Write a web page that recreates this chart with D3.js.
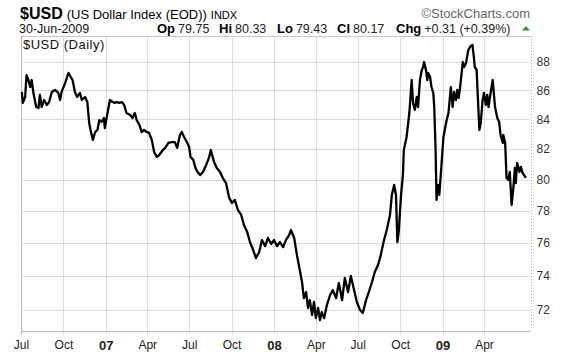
<!DOCTYPE html>
<html><head><meta charset="utf-8">
<script src="https://cdn.jsdelivr.net/npm/d3@7"></script>
<style>
body{margin:0;background:#fff}
svg{display:block}
text{font-family:"Liberation Sans",Arial,sans-serif}
</style>
</head><body>
<svg id="chart" width="570" height="352"></svg>
<script>
// ---- data ----
const dates = [
"2006-07-03","2006-07-05","2006-07-10","2006-07-13","2006-07-17","2006-07-21","2006-07-24","2006-07-28",
"2006-08-03","2006-08-08","2006-08-11","2006-08-15","2006-08-20","2006-08-26","2006-08-31",
"2006-09-06","2006-09-13","2006-09-20","2006-09-24","2006-09-27",
"2006-10-05","2006-10-12","2006-10-17","2006-10-21","2006-10-26","2006-10-31",
"2006-11-06","2006-11-10","2006-11-17","2006-11-22","2006-11-26","2006-11-29",
"2006-12-04","2006-12-09","2006-12-14","2006-12-18","2006-12-23","2006-12-28","2006-12-30",
"2007-01-04","2007-01-10","2007-01-16","2007-01-21","2007-01-25","2007-01-30",
"2007-02-05","2007-02-10","2007-02-15","2007-02-23","2007-02-28",
"2007-03-05","2007-03-09","2007-03-15","2007-03-20","2007-03-25","2007-03-31",
"2007-04-05","2007-04-11","2007-04-16","2007-04-22","2007-04-27",
"2007-05-05","2007-05-10","2007-05-17","2007-05-24","2007-05-31",
"2007-06-05","2007-06-11","2007-06-15","2007-06-20","2007-06-26",
"2007-07-01","2007-07-04","2007-07-10","2007-07-14","2007-07-19","2007-07-25","2007-07-31",
"2007-08-07","2007-08-13","2007-08-17","2007-08-24","2007-08-30",
"2007-09-06","2007-09-12","2007-09-19","2007-09-26",
"2007-10-02","2007-10-08","2007-10-15","2007-10-22","2007-10-28",
"2007-11-04","2007-11-10","2007-11-17","2007-11-23","2007-11-30",
"2007-12-06","2007-12-13","2007-12-19","2007-12-26",
"2008-01-01","2008-01-08","2008-01-14","2008-01-21","2008-01-27",
"2008-02-03","2008-02-07","2008-02-14","2008-02-20","2008-02-27",
"2008-03-02","2008-03-06","2008-03-11","2008-03-15","2008-03-19","2008-03-24","2008-03-28",
"2008-04-01","2008-04-06","2008-04-10","2008-04-14","2008-04-19","2008-04-25",
"2008-05-02","2008-05-08","2008-05-15","2008-05-21","2008-05-28",
"2008-06-03","2008-06-10","2008-06-16","2008-06-23","2008-06-29",
"2008-07-06","2008-07-12","2008-07-19","2008-07-25",
"2008-08-01","2008-08-07","2008-08-14","2008-08-20","2008-08-27",
"2008-09-02","2008-09-09","2008-09-13","2008-09-18","2008-09-22","2008-09-25","2008-09-28",
"2008-10-03","2008-10-07","2008-10-09","2008-10-15","2008-10-21","2008-10-26","2008-10-29",
"2008-11-02","2008-11-06","2008-11-09","2008-11-13","2008-11-17","2008-11-20","2008-11-22","2008-11-26","2008-11-29",
"2008-12-01","2008-12-05","2008-12-08","2008-12-12","2008-12-14","2008-12-17","2008-12-19","2008-12-22","2008-12-25","2008-12-29",
"2009-01-03","2009-01-10","2009-01-14","2009-01-19","2009-01-23","2009-01-26","2009-01-30",
"2009-02-02","2009-02-05","2009-02-08","2009-02-14","2009-02-17","2009-02-21","2009-02-26",
"2009-03-03","2009-03-07","2009-03-10","2009-03-12","2009-03-16","2009-03-20","2009-03-22","2009-03-25","2009-03-29",
"2009-04-01","2009-04-05","2009-04-08","2009-04-11","2009-04-14","2009-04-20","2009-04-25","2009-04-30",
"2009-05-04","2009-05-07","2009-05-12","2009-05-13","2009-05-17","2009-05-20","2009-05-24","2009-05-27","2009-05-31",
"2009-06-04","2009-06-07","2009-06-09","2009-06-12","2009-06-17","2009-06-20","2009-06-24","2009-06-30"
];
const values = [
85.81,85.12,85.53,87.06,86.71,86.22,86.71,85.81,
84.84,84.77,85.67,84.84,85.32,84.98,85.18,
85.88,86.02,85.81,85.32,85.88,
86.50,87.21,86.92,86.71,85.88,85.53,
85.81,85.32,85.53,85.18,83.75,83.28,
82.61,83.14,83.28,83.95,83.82,84.09,83.41,
84.29,85.32,85.18,85.12,85.18,85.12,
85.18,84.98,84.43,84.29,84.09,
84.43,83.95,83.62,83.14,83.28,83.14,
83.08,82.61,81.81,81.48,81.61,
81.94,82.08,82.41,82.47,82.47,
82.08,82.94,83.14,82.81,82.47,
82.14,81.48,81.29,80.83,80.50,80.30,80.50,
80.96,81.42,81.94,81.16,80.76,
80.50,80.11,79.78,78.83,
78.51,78.70,78.06,77.75,77.12,
76.69,76.07,75.58,75.09,75.46,
76.19,75.82,76.32,75.95,
76.19,75.82,76.07,75.76,76.19,
76.50,76.81,76.32,75.27,74.25,
73.65,72.70,73.05,72.12,72.58,71.71,72.47,
71.53,72.12,71.42,71.88,71.53,72.29,
72.88,73.17,72.70,73.59,72.58,
73.89,73.05,74.01,73.17,72.47,
72.00,71.83,72.58,73.05,
73.65,74.25,74.67,75.27,76.19,
76.81,77.75,79.02,79.66,79.02,76.07,76.69,
79.02,80.30,81.94,82.81,84.43,86.71,85.12,
84.64,85.53,84.84,86.71,87.42,87.63,87.98,87.42,86.71,
87.21,86.92,86.22,85.81,84.84,81.94,78.70,79.66,79.02,80.63,
82.81,83.95,84.43,86.22,84.84,85.88,85.32,
86.02,85.46,86.15,87.98,87.63,87.91,88.84,
89.13,89.20,88.34,87.63,87.42,84.64,83.28,83.75,85.32,
85.81,84.98,85.67,84.84,85.53,86.71,84.84,84.09,
83.82,82.94,82.41,82.94,82.41,80.11,79.98,80.50,78.38,
79.53,80.76,79.78,81.09,80.50,80.83,80.43,80.17
];
const yTicks = [72,74,76,78,80,82,84,86,88];
const xTickDates = ["2006-07-01","2006-10-01","2007-01-01","2007-04-01","2007-07-01","2007-10-01",
                    "2008-01-01","2008-04-01","2008-07-01","2008-10-01","2009-01-01","2009-04-01"];
const xTickLabels = ["Jul","Oct","07","Apr","Jul","Oct","08","Apr","Jul","Oct","09","Apr"];
const quoteLabels = ["Op","Hi","Lo","Cl","Chg"];
const quoteValues = ["79.75","80.33","79.43","80.17","+0.31 (+0.39%)"];

// ---- drawing ----
const svg = d3.select("#chart");
const parse = d3.utcParse("%Y-%m-%d");
const L = 21, R = 530.5, T = 36, B = 330.5;
const x = d3.scaleUtc().domain([parse("2006-07-01"), parse("2009-07-11")]).range([L, R]);
const y = d3.scaleLog().domain([70.82, 89.85]).range([B, T]);
const snap = v => Math.round(v) + 0.5;

// grid
const g = svg.append("g");
g.selectAll("line.h").data(yTicks).join("line")
  .attr("x1", L).attr("x2", R).attr("y1", d => snap(y(d))).attr("y2", d => snap(y(d)))
  .attr("stroke", "#dcdcdc").attr("stroke-width", 1);
g.selectAll("line.v").data(xTickDates).join("line")
  .attr("x1", d => snap(x(parse(d)))).attr("x2", d => snap(x(parse(d))))
  .attr("y1", T).attr("y2", B + 4)
  .attr("stroke", "#dcdcdc").attr("stroke-width", 1);

// frame
g.append("line").attr("x1", L).attr("x2", R).attr("y1", snap(T)).attr("y2", snap(T)).attr("stroke", "#c8c8c8");
g.append("line").attr("x1", L).attr("x2", R).attr("y1", snap(B)).attr("y2", snap(B)).attr("stroke", "#b8b8b8");
g.append("line").attr("x1", snap(L)).attr("x2", snap(L)).attr("y1", T).attr("y2", B + 4).attr("stroke", "#b8b8b8");
g.append("line").attr("x1", snap(R)).attr("x2", snap(R)).attr("y1", T).attr("y2", B)
  .attr("stroke", "#a8a8a8").attr("stroke-dasharray", "1,2");

// right axis
const yAxis = d3.axisRight(y).tickValues(yTicks).tickFormat(d3.format("d")).tickSize(0).tickPadding(5);
const ya = svg.append("g").attr("transform", `translate(${snap(R)},0)`).call(yAxis);
ya.select(".domain").remove();
ya.selectAll("text").attr("font-size", 12).attr("fill", "#333")
  .attr("font-family", "'Liberation Sans',Arial,sans-serif");

// bottom axis
const xAxis = d3.axisBottom(x).tickValues(xTickDates.map(parse))
  .tickFormat((d, i) => xTickLabels[i]).tickSize(0).tickPadding(10);
const xa = svg.append("g").attr("transform", `translate(0,${B})`).call(xAxis);
xa.select(".domain").remove();
xa.selectAll("text").attr("fill", "#222")
  .attr("font-family", "'Liberation Sans',Arial,sans-serif")
  .attr("font-weight", (d, i) => /^\d/.test(xTickLabels[i]) ? "bold" : "normal")
  .attr("font-size", (d, i) => /^\d/.test(xTickLabels[i]) ? 13 : 12);

// price line
const line = d3.line().x((d, i) => x(parse(dates[i]))).y(d => y(d)).curve(d3.curveLinear);
svg.append("path").datum(values).attr("d", line)
  .attr("fill", "none").attr("stroke", "#000").attr("stroke-width", 2.3)
  .attr("stroke-linejoin", "round").attr("stroke-linecap", "round");

// in-plot label
svg.append("text").attr("x", 23).attr("y", 48.5).attr("font-size", 13)
  .attr("letter-spacing", 0.5)
  .attr("font-family", "'DejaVu Sans',sans-serif").attr("fill", "#111").text("$USD (Daily)");

// header
const h1 = svg.append("text").attr("x", 20).attr("y", 18.5).attr("fill", "#000");
h1.append("tspan").attr("font-size", 16).attr("font-weight", "bold").text("$USD");
h1.append("tspan").attr("font-size", 13).attr("dx", 4).text("(US Dollar Index (EOD))");
h1.append("tspan").attr("font-size", 11).attr("dx", 4).text("INDX");

svg.append("text").attr("x", 19).attr("y", 32.5).attr("font-size", 12.5).attr("fill", "#111").text("30-Jun-2009");

const qx = [157, 219, 277, 337, 396];
quoteLabels.forEach((lab, i) => {
  const t = svg.append("text").attr("x", qx[i]).attr("y", 32.5).attr("fill", "#000");
  t.append("tspan").attr("font-size", 13).attr("font-weight", "bold").text(lab);
  t.append("tspan").attr("font-size", 12.5).attr("dx", 3).attr("fill", "#222").text(quoteValues[i]);
});
svg.append("path").attr("d", "M522,30.5 L530,30.5 L526,26 Z").attr("fill", "#2e9a3a");

svg.append("text").attr("x", 530).attr("y", 17.5).attr("text-anchor", "end")
  .attr("font-size", 13).attr("fill", "#666").text("\u00A9StockCharts.com");
</script>
</body></html>
